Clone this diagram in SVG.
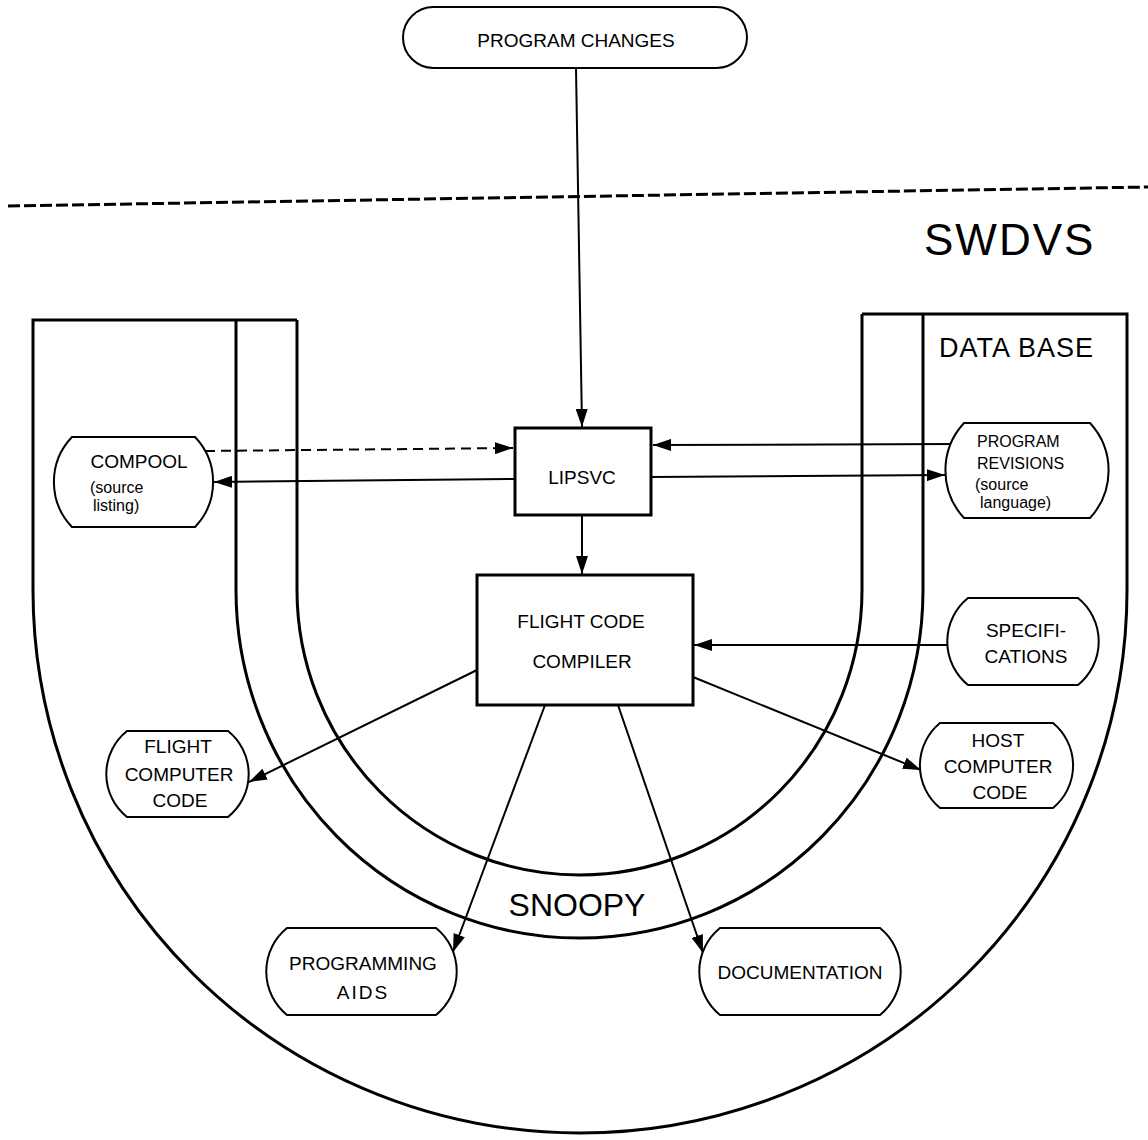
<svg xmlns="http://www.w3.org/2000/svg" width="1148" height="1140" viewBox="0 0 1148 1140">
<style>
.bg{fill:#fff}
.u{fill:none;stroke:#000;stroke-width:3}
.nd{fill:#fff;stroke:#000;stroke-width:2}
.bx{fill:#fff;stroke:#000;stroke-width:3}
.t{font-family:"Liberation Sans",Arial,sans-serif;font-size:19px;fill:#000;text-anchor:middle}
.s{font-family:"Liberation Sans",Arial,sans-serif;font-size:16px;fill:#000}
.c{fill:none;stroke:#000;stroke-width:2}
.d{fill:none;stroke:#000;stroke-width:2;stroke-dasharray:10 6}
.big{font-family:"Liberation Sans",Arial,sans-serif;fill:#000}
</style>
<defs>
<marker id="ah" markerUnits="userSpaceOnUse" markerWidth="20" markerHeight="12" refX="18" refY="6" orient="auto">
<path d="M0,0 L18,6 L0,12 z" fill="#000"/>
</marker>
</defs>
<rect class="bg" x="0" y="0" width="1148" height="1140"/>

<g id="frame">
<path class="u" d="M8,206 L1148,187" style="stroke-dasharray:12 4"/>
<path id="outer-u" class="u" d="M297,320 H33 V590 A547 543 0 0 0 1127,590 V314 H862"/>
<path id="middle-u" class="u" d="M236,320 V590 A343.5 348 0 0 0 923,590 V314"/>
<path id="inner-u" class="u" d="M297,320 V590 A282.5 285 0 0 0 862,590 V314"/>
<text class="big" x="924" y="255" font-size="44" letter-spacing="2">SWDVS</text>
<text class="big" x="939" y="357" font-size="27" letter-spacing="1">DATA BASE</text>
<text class="big" x="577" y="916" font-size="32" text-anchor="middle">SNOOPY</text>
</g>

<g id="connectors">
<path class="c" d="M576,68 L582,427" marker-end="url(#ah)"/>
<path class="d" d="M205,451 L513,448" marker-end="url(#ah)"/>
<path class="c" d="M515,479 L214,482" marker-end="url(#ah)"/>
<path class="c" d="M956,444 L653,445" marker-end="url(#ah)"/>
<path class="c" d="M651,477 L945,475" marker-end="url(#ah)"/>
<path class="c" d="M582,515 L582,574" marker-end="url(#ah)"/>
<path class="c" d="M948,645 L694,645" marker-end="url(#ah)"/>
<path class="c" d="M477,670 L249,782" marker-end="url(#ah)"/>
<path class="c" d="M693,677 L921,770" marker-end="url(#ah)"/>
<path class="c" d="M545,705 L453,952" marker-end="url(#ah)"/>
<path class="c" d="M618,705 L703,953" marker-end="url(#ah)"/>
</g>

<g id="program-changes">
<rect class="nd" x="403" y="7" width="344" height="61" rx="30.5"/>
<text class="t" x="576" y="47">PROGRAM  CHANGES</text>
</g>

<g id="lipsvc">
<rect class="bx" x="515" y="428" width="136" height="87"/>
<text class="t" x="582" y="484" font-size="20">LIPSVC</text>
</g>

<g id="flight-code-compiler">
<rect class="bx" x="477" y="575" width="216" height="130"/>
<text class="t" x="581" y="628" font-size="20">FLIGHT  CODE</text>
<text class="t" x="582" y="668" font-size="20">COMPILER</text>
</g>

<g id="compool">
<path class="nd" d="M72,437 H195 A65 65 0 0 1 195,527 H72 A65 65 0 0 1 72,437 Z"/>
<text class="t" x="139" y="468">COMPOOL</text>
<text class="s" x="90" y="493">(source</text>
<text class="s" x="93" y="511">listing)</text>
</g>

<g id="program-revisions">
<path class="nd" d="M964,423 H1090 A70 70 0 0 1 1090,518 H964 A70 70 0 0 1 964,423 Z"/>
<text class="s" x="977" y="447" font-size="18">PROGRAM</text>
<text class="s" x="977" y="469" font-size="18">REVISIONS</text>
<text class="s" x="975" y="490">(source</text>
<text class="s" x="980" y="508">language)</text>
</g>

<g id="specifications">
<path class="nd" d="M968,598 H1078 A56 56 0 0 1 1078,685 H968 A56 56 0 0 1 968,598 Z"/>
<text class="t" x="1026" y="637" font-size="18">SPECIFI-</text>
<text class="t" x="1026" y="663" font-size="18">CATIONS</text>
</g>

<g id="host-computer-code">
<path class="nd" d="M940,723 H1053 A55 55 0 0 1 1053,808 H940 A55 55 0 0 1 940,723 Z"/>
<text class="t" x="998" y="747" font-size="18">HOST</text>
<text class="t" x="998" y="773" font-size="18">COMPUTER</text>
<text class="t" x="1000" y="799" font-size="18">CODE</text>
</g>

<g id="flight-computer-code">
<path class="nd" d="M127,731 H228 A55 55 0 0 1 228,817 H127 A55 55 0 0 1 127,731 Z"/>
<text class="t" x="178" y="753" font-size="18">FLIGHT</text>
<text class="t" x="179" y="781" font-size="18">COMPUTER</text>
<text class="t" x="180" y="807" font-size="18">CODE</text>
</g>

<g id="programming-aids">
<path class="nd" d="M287,928 H436 A56 56 0 0 1 436,1015 H287 A56 56 0 0 1 287,928 Z"/>
<text class="t" x="363" y="970" font-size="19">PROGRAMMING</text>
<text class="t" x="363" y="999" font-size="19" letter-spacing="2">AIDS</text>
</g>

<g id="documentation">
<path class="nd" d="M720,928 H880 A56 56 0 0 1 880,1015 H720 A56 56 0 0 1 720,928 Z"/>
<text class="t" x="800" y="979" font-size="18">DOCUMENTATION</text>
</g>
</svg>
